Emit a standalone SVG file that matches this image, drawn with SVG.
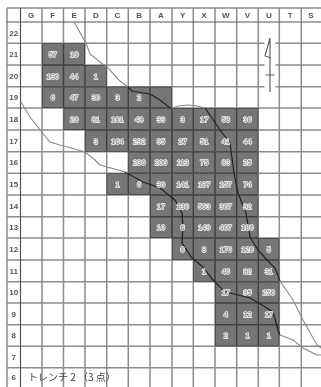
<svg xmlns="http://www.w3.org/2000/svg" width="321" height="387" viewBox="0 0 321 387">
<defs><filter id="soft" x="-2%" y="-2%" width="104%" height="104%"><feGaussianBlur stdDeviation="0.4"/></filter></defs>
<style>
text{font-family:"Liberation Sans",Arial,sans-serif;text-anchor:middle}
.h{font-size:8px;font-weight:bold;fill:#555}
.n{font-size:7.5px;fill:#777;stroke:#fff;stroke-width:1.4px;paint-order:stroke;stroke-linejoin:round}
.g{fill:none;stroke:#8c8c8c;stroke-width:1.5}
.d{fill:none;stroke:#555;stroke-width:1.2}
.cell{fill:#767676}
.lt{fill:none;stroke:#8a8a8a;stroke-width:1.1}
.bk{fill:none;stroke:#222;stroke-width:1.2}
.t{font-size:10px;fill:#444;text-anchor:start;font-family:"Noto Sans CJK JP","Liberation Sans",sans-serif}
</style>
<rect width="321" height="387" fill="#fff"/>
<g id="plan" filter="url(#soft)">
<g id="cells">
<rect class="cell" x="42" y="43.3" width="43" height="21.7"/>
<rect class="cell" x="42" y="65" width="64.7" height="21.7"/>
<rect class="cell" x="42" y="86.7" width="130" height="21.3"/>
<rect class="cell" x="63.5" y="108" width="194.8" height="22"/>
<rect class="cell" x="85" y="130" width="173.3" height="21.7"/>
<rect class="cell" x="128.3" y="151.7" width="130" height="21.6"/>
<rect class="cell" x="106.7" y="173.3" width="151.6" height="21.7"/>
<rect class="cell" x="150" y="195" width="108.3" height="43"/>
<rect class="cell" x="172" y="238" width="107.3" height="22"/>
<rect class="cell" x="193.3" y="260" width="86" height="21.7"/>
<rect class="cell" x="215" y="281.7" width="64.3" height="64.6"/>
</g>
<g id="grid" style="mix-blend-mode:multiply">
<path class="g" d="M7 8V387M42 8V387M63.5 8V387M85 8V387M106.7 8V387M128.3 8V387M150 8V387M172 8V387M193.3 8V387M215 8V387M236.7 8V387M258.3 8V387M279.3 8V387M301.3 8V387"/>
<path class="g" d="M7 8H321M7 43.3H321M7 65H321M7 86.7H321M7 108H321M7 130H321M7 151.7H321M7 173.3H321M7 195H321M7 216.7H321M7 238H321M7 260H321M7 281.7H321M7 303H321M7 324.7H321M7 346.3H321M7 367.7H321"/>
<path class="d" d="M20.5 8V387M7 22H321"/>
</g>
<g id="north">
<path d="M270 39V93" fill="none" stroke="#fff" stroke-width="11"/>
<path d="M270 38V92M270 38L265 56L271 58M265.500 75H274.500" fill="none" stroke="#555" stroke-width="1.1"/>
</g>
<g id="connectors">
<path class="lt" d="M74 22L86 43L90 54L100 62L107 67L120 81L128 87"/>
<path class="bk" d="M128 87L132 91L150 94L160 100L170 108"/>
<path class="lt" d="M172 108Q187 102 205 108"/>
<path class="bk" d="M205 108L212 118L220 130L230 143L234 173L238 193L246 213L250 237L258 250L267 260L275 268L280 281"/>
<path class="lt" d="M280 281L293 300L303 320L317 345L321 348"/>
<path class="lt" d="M21 102L30 117L40 130L50 142L60 145L75 149L85 152L95 160L100 165L125 172"/>
<path class="bk" d="M125 172L143 182L160 188L175 200L182 213L183 227L182 243L192 258L203 267L213 280L223 290L230 293L250 298L262 305L273 312L278 330L280 335"/>
<path class="lt" d="M280 335L293 340L303 348L317 355L321 355"/>
</g>
<g id="headers" class="h">
<text class="h" x="31.200" y="18">G</text><text class="h" x="52.800" y="18">F</text><text class="h" x="74.200" y="18">E</text><text class="h" x="95.800" y="18">D</text><text class="h" x="117.500" y="18">C</text><text class="h" x="139.200" y="18">B</text><text class="h" x="161" y="18">A</text><text class="h" x="182.700" y="18">Y</text><text class="h" x="204.200" y="18">X</text><text class="h" x="225.800" y="18">W</text><text class="h" x="247.500" y="18">V</text><text class="h" x="268.800" y="18">U</text><text class="h" x="290.300" y="18">T</text><text class="h" x="311" y="18">S</text>
<text class="h" x="13.800" y="35.500">22</text><text class="h" x="13.800" y="57">21</text><text class="h" x="13.800" y="78.700">20</text><text class="h" x="13.800" y="100.200">19</text><text class="h" x="13.800" y="121.900">18</text><text class="h" x="13.800" y="143.700">17</text><text class="h" x="13.800" y="165.400">16</text><text class="h" x="13.800" y="187">15</text><text class="h" x="13.800" y="208.700">14</text><text class="h" x="13.800" y="230.200">13</text><text class="h" x="13.800" y="251.900">12</text><text class="h" x="13.800" y="273.700">11</text><text class="h" x="13.800" y="295.200">10</text><text class="h" x="13.800" y="316.700">9</text><text class="h" x="13.800" y="338.400">8</text><text class="h" x="13.800" y="359.900">7</text><text class="h" x="13.800" y="380.400">6</text>
</g>
<g id="values">
<text class="n" x="52.800" y="57">57</text><text class="n" x="74.200" y="57">10</text>
<text class="n" x="52.800" y="78.600">130</text><text class="n" x="74.200" y="78.600">44</text><text class="n" x="95.800" y="78.600">1</text>
<text class="n" x="52.800" y="100">6</text><text class="n" x="74.200" y="100">47</text><text class="n" x="95.800" y="100">30</text><text class="n" x="117.500" y="100">3</text><text class="n" x="139.200" y="100">2</text>
<text class="n" x="74.200" y="121.800">20</text><text class="n" x="95.800" y="121.800">81</text><text class="n" x="117.500" y="121.800">101</text><text class="n" x="139.200" y="121.800">48</text><text class="n" x="161" y="121.800">33</text><text class="n" x="182.700" y="121.800">3</text><text class="n" x="204.200" y="121.800">17</text><text class="n" x="225.800" y="121.800">58</text><text class="n" x="247.500" y="121.800">36</text>
<text class="n" x="95.800" y="143.500">3</text><text class="n" x="117.500" y="143.500">164</text><text class="n" x="139.200" y="143.500">292</text><text class="n" x="161" y="143.500">95</text><text class="n" x="182.700" y="143.500">27</text><text class="n" x="204.200" y="143.500">51</text><text class="n" x="225.800" y="143.500">41</text><text class="n" x="247.500" y="143.500">44</text>
<text class="n" x="139.200" y="165.200">206</text><text class="n" x="161" y="165.200">206</text><text class="n" x="182.700" y="165.200">113</text><text class="n" x="204.200" y="165.200">75</text><text class="n" x="225.800" y="165.200">83</text><text class="n" x="247.500" y="165.200">25</text>
<text class="n" x="117.500" y="187">1</text><text class="n" x="139.200" y="187">6</text><text class="n" x="161" y="187">30</text><text class="n" x="182.700" y="187">141</text><text class="n" x="204.200" y="187">187</text><text class="n" x="225.800" y="187">157</text><text class="n" x="247.500" y="187">74</text>
<text class="n" x="161" y="208.600">17</text><text class="n" x="182.700" y="208.600">130</text><text class="n" x="204.200" y="208.600">563</text><text class="n" x="225.800" y="208.600">307</text><text class="n" x="247.500" y="208.600">92</text>
<text class="n" x="161" y="230">10</text><text class="n" x="182.700" y="230">6</text><text class="n" x="204.200" y="230">149</text><text class="n" x="225.800" y="230">407</text><text class="n" x="247.500" y="230">180</text>
<text class="n" x="182.700" y="251.800">0</text><text class="n" x="204.200" y="251.800">8</text><text class="n" x="225.800" y="251.800">176</text><text class="n" x="247.500" y="251.800">120</text><text class="n" x="268.800" y="251.800">5</text>
<text class="n" x="204.200" y="273.500">1</text><text class="n" x="225.800" y="273.500">46</text><text class="n" x="247.500" y="273.500">82</text><text class="n" x="268.800" y="273.500">31</text>
<text class="n" x="225.800" y="295">17</text><text class="n" x="247.500" y="295">95</text><text class="n" x="268.800" y="295">250</text>
<text class="n" x="225.800" y="316.600">4</text><text class="n" x="247.500" y="316.600">12</text><text class="n" x="268.800" y="316.600">17</text>
<text class="n" x="225.800" y="338.300">2</text><text class="n" x="247.500" y="338.300">1</text><text class="n" x="268.800" y="338.300">1</text>
</g>
<text id="trench-label" class="t" x="28" y="381">トレンチ 2 （3 点）</text>
</g>
</svg>
